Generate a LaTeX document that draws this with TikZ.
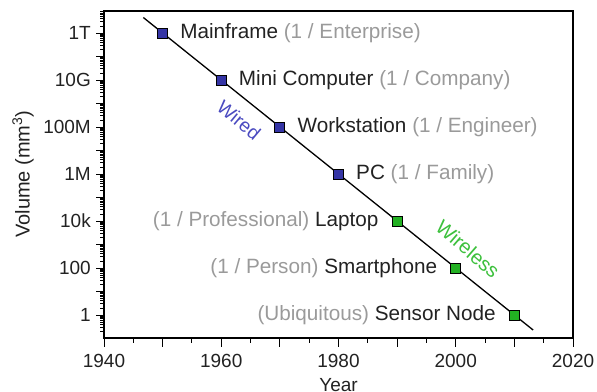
\documentclass[tikz,border=0pt]{standalone}
\usepackage{fontspec}
\setmainfont{Liberation Sans}
\definecolor{mkblue}{HTML}{3535A5}
\definecolor{mkgreen}{HTML}{22B022}
\definecolor{txtgray}{HTML}{9A9A9A}
\definecolor{txtblack}{HTML}{222222}
\definecolor{wiredblue}{HTML}{4A4AC0}
\definecolor{wirelessgreen}{HTML}{3CC03C}
\begin{document}
\begin{tikzpicture}[x=1pt,y=-1pt,
  every node/.style={font=\fontsize{19}{21}\selectfont, text=txtblack},
  marker/.style={draw=black, line width=1pt, rectangle, minimum size=10pt, inner sep=0pt},
  bluemk/.style={marker, fill=mkblue},
  greenmk/.style={marker, fill=mkgreen},
  lblfont/.style={font=\fontsize{20.7}{22}\selectfont},
  rlabel/.style={lblfont, anchor=west, inner sep=0pt},
  llabel/.style={lblfont, anchor=east, inner sep=0pt},
  axisline/.style={line width=1.6pt, black},
  tickline/.style={line width=1pt, black},
  ticklab/.style={inner sep=0pt}]
\useasboundingbox (0,0) rectangle (597,391);
% frame
\draw[axisline] (104,11) rectangle (573,338);
% y ticks
\foreach \n in {-1,...,12}{
  \pgfmathsetmacro\yy{315-23.5*\n}
  \ifdim \yy pt<338pt \ifdim \yy pt>11pt
    \draw[tickline] (104,\yy) -- ++(-8,0);
  \fi\fi
  \foreach \k in {2,...,9}{
    \pgfmathsetmacro\ym{315-23.5*(\n+log10(\k))}
    \ifdim \ym pt>11.5pt \ifdim \ym pt<338pt
      \draw[line width=0.8pt] (104,\ym) -- ++(-4.5,0);
    \fi\fi
  }
}
% x ticks
\foreach \yr in {1940,1945,...,2020}{
  \pgfmathsetmacro\xx{104+(\yr-1940)*5.8625}
  \pgfmathtruncatemacro\md{mod(\yr,10)}
  \ifnum\md=0
    \draw[tickline] (\xx,338) -- ++(0,9);
  \else
    \draw[tickline] (\xx,338) -- ++(0,5);
  \fi
}
% y labels
\node[ticklab, anchor=east] (y12) at (91,33) {1T};
\node[ticklab, anchor=east] (y10) at (91,80) {10G};
\node[ticklab, anchor=east] (y8) at (91,127) {100M};
\node[ticklab, anchor=east] (y6) at (91,174) {1M};
\node[ticklab, anchor=east] (y4) at (91,221) {10k};
\node[ticklab, anchor=east] (y2) at (91,268) {100};
\node[ticklab, anchor=east] (y0) at (91,315) {1};
% x labels
\node[ticklab] (x1940) at (104,361) {1940};
\node[ticklab] (x1960) at (221.25,361) {1960};
\node[ticklab] (x1980) at (338.5,361) {1980};
\node[ticklab] (x2000) at (455.75,361) {2000};
\node[ticklab] (x2020) at (573,361) {2020};
% axis titles
\node[ticklab] (xtitle) at (338.5,385) {Year};
\node[ticklab, rotate=90, font=\fontsize{20}{22}\selectfont] (ytitle) at (23,174) {Volume (mm\textsuperscript{3})};
% trend line
\coordinate (ls) at (143.3,17.5);
\coordinate (le) at (533.1,330);
\draw[line width=1.3pt, black] (ls) -- (le);
% markers
\node[bluemk] (m1) at (162.6,33) {};
\node[bluemk] (m2) at (221.25,80) {};
\node[bluemk] (m3) at (279.9,127) {};
\node[bluemk] (m4) at (338.5,174) {};
\node[greenmk] (m5) at (397.1,221) {};
\node[greenmk] (m6) at (455.75,268) {};
\node[greenmk] (m7) at (514.4,315) {};
% labels
\node[rlabel] (l1) at ([xshift=12pt]m1.east) {Mainframe \textcolor{txtgray}{(1 / Enterprise)}};
\node[rlabel] (l2) at ([xshift=12pt]m2.east) {Mini Computer \textcolor{txtgray}{(1 / Company)}};
\node[rlabel] (l3) at ([xshift=12pt]m3.east) {Workstation \textcolor{txtgray}{(1 / Engineer)}};
\node[rlabel] (l4) at ([xshift=12pt]m4.east) {PC \textcolor{txtgray}{(1 / Family)}};
\node[llabel] (l5) at ([xshift=-13pt]m5.west) {\textcolor{txtgray}{(1 / Professional)} Laptop};
\node[llabel] (l6) at ([xshift=-13pt]m6.west) {\textcolor{txtgray}{(1 / Person)} Smartphone};
\node[llabel] (l7) at ([xshift=-13pt]m7.west) {\textcolor{txtgray}{(Ubiquitous)} Sensor Node};
% region labels
\node[ticklab, rotate=-40, text=wiredblue] (wired) at (239,120) {Wired};
\node[ticklab, rotate=-41, text=wirelessgreen, font=\fontsize{20}{22}\selectfont] (wireless) at (468,249) {Wireless};
\end{tikzpicture}
\end{document}
